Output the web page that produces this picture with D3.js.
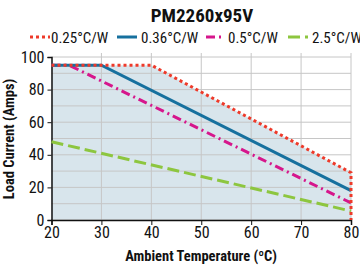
<!DOCTYPE html>
<html><head><meta charset="utf-8">
<script src="https://cdn.jsdelivr.net/npm/d3@7"></script>
<style>
body{margin:0;background:#fff;}
text{font-family:"Liberation Sans Narrow","Roboto Condensed","Arial Narrow",sans-serif;font-stretch:condensed;}
</style></head><body>
<svg id="c" width="360" height="266"></svg>
<script>
const title = "PM2260x95V";
const seriesNames = ["0.25°C/W","0.36°C/W","0.5°C/W","2.5°C/W"];
const temps025 = [20,40,80,80];
const load025 = [95,95,29,0];
const temps036 = [20,30,80];
const load036 = [95,95,18];
const temps05 = [20,23.5,80];
const load05 = [95,95,10.5];
const temps25 = [20,80];
const load25 = [48,5.5];
const xTicks = [20,30,40,50,60,70,80];
const yTicks = [0,20,40,60,80,100];
const yGrid = [0,10,20,30,40,50,60,70,80,90,100];

const svg = d3.select("#c");
const x = d3.scaleLinear().domain([20,80]).range([51.5,351]);
const y = d3.scaleLinear().domain([0,100]).range([220,57]);

const colors = ["#ee3a2a","#16709e","#d6168c","#8dc63f"];
const dashes = ["3,3","", "9,4,2,4","12,5"];

const env = temps025.map((t,i)=>[t,load025[i]]);
svg.append("path")
  .attr("d", d3.line().x(d=>x(d[0])).y(d=>y(d[1]))([[20,0]].concat(env)) + "Z")
  .attr("fill","#d8e5ec");

svg.append("g").selectAll("line").data(yGrid).join("line")
  .attr("x1",x(20)).attr("x2",x(80)).attr("y1",d=>y(d)).attr("y2",d=>y(d))
  .attr("stroke","#c6c6c6").attr("stroke-width",1);
svg.append("g").selectAll("line").data(xTicks.slice(1)).join("line")
  .attr("x1",d=>x(d)).attr("x2",d=>x(d)).attr("y1",y(100)-4).attr("y2",y(0))
  .attr("stroke","#c6c6c6").attr("stroke-width",1);

const xa = svg.append("g").attr("transform",`translate(0,${y(0)})`)
  .call(d3.axisBottom(x).tickValues(xTicks).tickSize(5).tickPadding(2));
const ya = svg.append("g").attr("transform",`translate(${x(20)},0)`)
  .call(d3.axisLeft(y).tickValues(yTicks).tickSize(4).tickPadding(3));
[xa,ya].forEach(a=>{
  a.select(".domain").attr("stroke","#111").attr("stroke-width",1.5);
  a.selectAll(".tick line").attr("stroke","#111");
  a.selectAll("text").attr("font-size",16).attr("fill","#111");
});

const data = [
  temps025.map((t,i)=>[t,load025[i]]),
  temps036.map((t,i)=>[t,load036[i]]),
  temps05.map((t,i)=>[t,load05[i]]),
  temps25.map((t,i)=>[t,load25[i]])
];
const line = d3.line().x(d=>x(d[0])).y(d=>y(d[1]));
[3,2,1,0].forEach(i=>{
  svg.append("path").attr("d",line(data[i])).attr("fill","none")
    .attr("stroke",colors[i]).attr("stroke-width",3)
    .attr("stroke-dasharray",dashes[i]||null);
});

svg.append("text").attr("x",202).attr("y",22).attr("text-anchor","middle")
  .attr("font-size",19).attr("font-weight","bold").attr("fill","#111").text(title);

const legX = [30,117,206,288];
const legW = [20,20,18,20];
seriesNames.forEach((n,i)=>{
  svg.append("line").attr("x1",legX[i]).attr("x2",legX[i]+legW[i]).attr("y1",37).attr("y2",37)
    .attr("stroke",colors[i]).attr("stroke-width",3).attr("stroke-dasharray",dashes[i]||null);
  svg.append("text").attr("x",legX[i]+legW[i]+(i==0?1:4)).attr("y",42.5)
    .attr("font-size",15).attr("fill","#111").text(n);
});

svg.append("text").attr("x",201).attr("y",261).attr("text-anchor","middle")
  .attr("font-size",14.5).attr("font-weight","bold").attr("fill","#111").text("Ambient Temperature (ºC)");
svg.append("text").attr("transform","translate(14,139) rotate(-90)").attr("text-anchor","middle")
  .attr("font-size",14.5).attr("font-weight","bold").attr("fill","#111").text("Load Current (Amps)");
</script></body></html>
